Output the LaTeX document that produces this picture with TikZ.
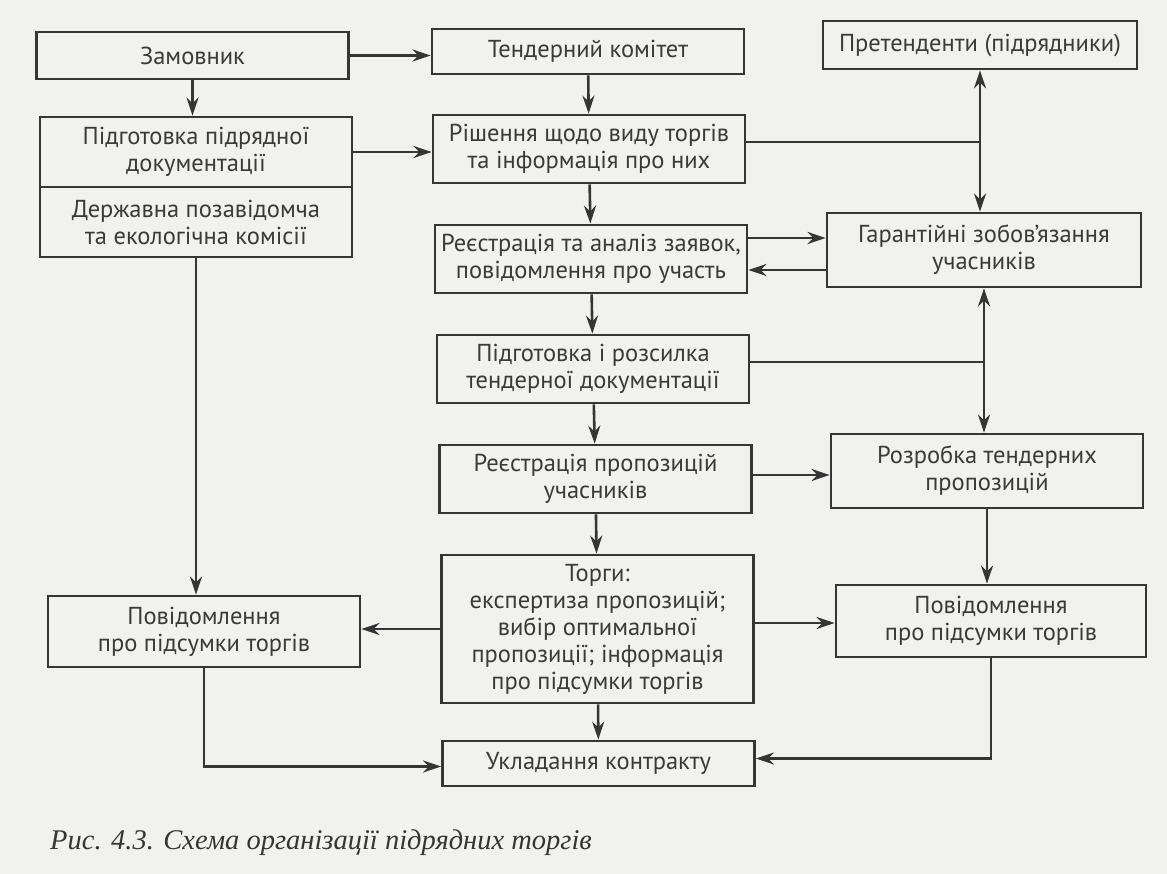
\documentclass[tikz,border=0pt]{standalone}
\usepackage{fontspec}
\setmainfont{PT Sans}
\newfontfamily\capfont{Liberation Serif}
\usetikzlibrary{arrows.meta}

\definecolor{paper}{HTML}{F1F1EF}
\definecolor{linegray}{HTML}{353535}
\definecolor{textgray}{HTML}{3A3A3A}

\tikzset{
  box/.style={draw=linegray, line width=2.8pt, text=textgray, align=center,
    minimum width=312pt, inner sep=0pt, font=\fontsize{24.5}{27}\selectfont},
  arr/.style={draw=linegray, line width=2.6pt, -{Stealth[length=18pt,width=12pt]}},
  dblarr/.style={draw=linegray, line width=2.6pt,
    {Stealth[length=18pt,width=12pt]}-{Stealth[length=18pt,width=12pt]}},
  ln/.style={draw=linegray, line width=2.6pt}
}

\begin{document}
\begin{tikzpicture}[x=1pt, y=-1pt]
    \fill[paper] (0,0) rectangle (1167,874);
    \useasboundingbox (0,0) rectangle (1167,874);

    %left column
    \node[box, minimum height=47pt] (zam) at (192.5, 55.5) {Замовник};
    \node[box, minimum height=70pt] (pidg) at (196, 152) {Підготовка підрядної\\документації};
    \node[box, minimum height=70pt] (derzh) at (196, 222) {Державна позавідомча\\та екологічна комісії};
    \node[box, minimum height=71pt] (povl) at (204, 631.5) {Повідомлення\\про підсумки торгів};

    %middle column
    \node[box, minimum height=45pt] (tend) at (588, 51.5) {Тендерний комітет};
    \node[box, minimum height=68pt] (rish) at (589, 149) {Рішення щодо виду торгів\\та інформація про них};
    \node[box, minimum height=68pt] (reyes) at (591, 259) {Реєстрація та аналіз заявок,\\повідомлення про участь};
    \node[box, minimum height=68pt] (rozs) at (593, 369) {Підготовка і розсилка\\тендерної документації};
    \node[box, minimum height=68pt] (reypr) at (595.5, 479) {Реєстрація пропозицій\\учасників};
    \node[box, minimum height=148pt] (torgy) at (597.5, 629) {Торги:\\експертиза пропозицій;\\вибір оптимальної\\пропозиції; інформація\\про підсумки торгів};
    \node[box, minimum height=45pt] (ukl) at (598.5, 763.5) {Укладання контракту};

    %right column
    \node[box, minimum height=48pt, minimum width=314pt] (pret) at (980, 45) {Претенденти (підрядники)};
    \node[box, minimum height=74pt, minimum width=314pt] (garant) at (984, 250) {Гарантійні зобов'язання\\учасників};
    \node[box, minimum height=74pt] (rozr) at (987, 471) {Розробка тендерних\\пропозицій};
    \node[box, minimum height=72pt, minimum width=310pt] (povr) at (991, 621) {Повідомлення\\про підсумки торгів};

    %caption
    \node[anchor=base west, inner sep=0pt, text=linegray,
      font=\capfont\itshape\fontsize{28.5}{32}\selectfont] (cap) at (50, 849)
      {Рис. 4.3. Схема організації підрядних торгів};

    \draw[arr] (zam) -- (zam.south |- pidg.north);
    \draw[arr] (zam.east) -- (zam.east -| tend.west);
    \draw[arr] (pidg.east) -- (pidg.east -| rish.west);
    \draw[arr] (derzh.south) -- (derzh.south |- povl.north);

    \draw[arr] (tend) -- (rish);
    \draw[arr] (rish) -- (reyes);
    \draw[arr] (reyes) -- (rozs);
    \draw[arr] (rozs) -- (reypr);
    \draw[arr] (reypr) -- (torgy);
    \draw[arr] (torgy) -- (ukl);

    \draw[dblarr] (pret.south) -- (pret.south |- garant.north);
    \draw[ln] ([yshift=7pt]rish.east) -- ([yshift=7pt]rish.east -| pret.south);
    \draw[arr] ([yshift=21pt]reyes.east) -- ([yshift=21pt]reyes.east -| garant.west);
    \draw[arr] ([yshift=-11pt]reyes.east -| garant.west) -- ([yshift=-11pt]reyes.east);

    \draw[dblarr] (garant.south) -- (garant.south |- rozr.north);
    \draw[ln] ([yshift=7pt]rozs.east) -- ([yshift=7pt]rozs.east -| garant.south);
    \draw[arr] ([yshift=4pt]reypr.east) -- ([yshift=4pt]reypr.east -| rozr.west);

    \draw[arr] (rozr.south) -- (rozr.south |- povr.north);
    \draw[arr] ([yshift=6pt]torgy.east) -- ([yshift=6pt]torgy.east -| povr.west);
    \draw[arr] (torgy.west) -- (torgy.west -| povl.east);

    \draw[arr] (povl.south) |- ([yshift=-3pt]ukl.west);
    \draw[arr] (povr.south) |- ([yshift=5pt]ukl.east);
\end{tikzpicture}
\end{document}
